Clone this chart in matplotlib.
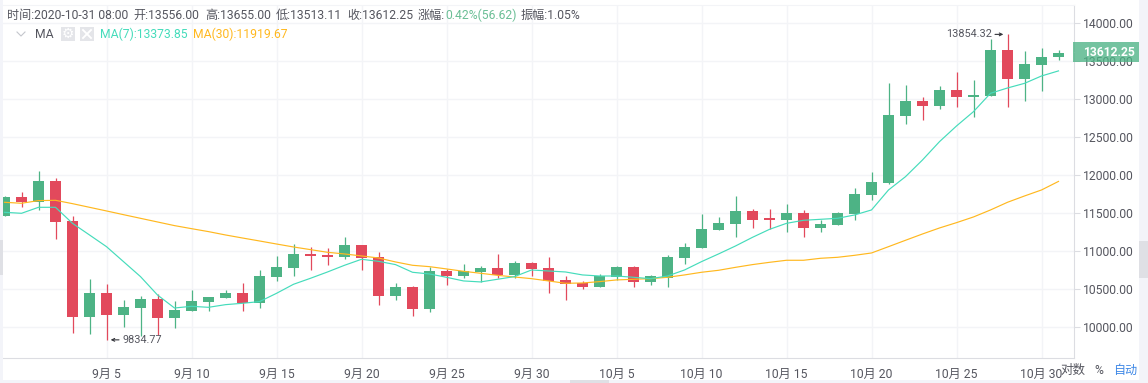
import pandas as pd
import matplotlib
matplotlib.use('Agg')
import matplotlib.pyplot as plt
from matplotlib.patches import Rectangle
from matplotlib.lines import Line2D

plt.rcParams['font.family'] = ['Roboto', 'Noto Sans CJK SC', 'DejaVu Sans']

W, H = 1148, 383

# daily candles from 2020-08-30 to 2020-10-31
open_p = [11470, 11715, 11653, 11925, 11400, 10140, 10452, 10162, 10259, 10373, 10127, 10219, 10333,
          10390, 10452, 10320, 10662, 10781, 10965, 10952, 10925, 11083, 10925, 10412, 10531, 10241,
          10741, 10675, 10724, 10781, 10689, 10846, 10781, 10623, 10583, 10531, 10662, 10794, 10597,
          10649, 10912, 11044, 11281, 11360, 11531, 11439, 11412, 11504, 11307, 11346, 11491, 11741,
          11899, 12781, 12978, 12912, 13123, 13031, 13044, 13649, 13268, 13452, 13556]
close_p = [11710, 11650, 11925, 11390, 10140, 10452, 10162, 10268, 10373, 10127, 10228, 10346, 10399,
           10452, 10320, 10675, 10794, 10965, 10939, 10925, 11083, 10912, 10412, 10531, 10241, 10741,
           10675, 10746, 10781, 10689, 10846, 10768, 10614, 10570, 10531, 10675, 10794, 10597, 10675,
           10925, 11057, 11294, 11373, 11531, 11412, 11412, 11504, 11307, 11360, 11504, 11754, 11912,
           12794, 12978, 12912, 13123, 13031, 13057, 13649, 13268, 13465, 13557, 13612.25]
high_p = [11730, 11785, 12055, 11970, 11465, 10636, 10575, 10355, 10412, 10439, 10346, 10496, 10399,
          10487, 10588, 10754, 10939, 11101, 11053, 11044, 11189, 11083, 10996, 10583, 10548, 10794,
          10763, 10833, 10807, 10965, 10873, 10864, 10925, 10675, 10610, 10700, 10807, 10807, 10689,
          10952, 11110, 11496, 11452, 11728, 11561, 11553, 11627, 11544, 11412, 11518, 11838, 12044,
          13210, 13193, 13031, 13175, 13360, 13254, 13794, 13854.32, 13640, 13675, 13655]
low_p = [11470, 11580, 11545, 11167, 9930, 9908, 9834.77, 10009, 9890, 9895, 9991, 10219, 10210,
         10390, 10219, 10254, 10614, 10675, 10754, 10820, 10899, 10754, 10298, 10360, 10145, 10202,
         10557, 10653, 10592, 10645, 10645, 10675, 10456, 10360, 10500, 10531, 10623, 10531, 10557,
         10535, 10833, 11044, 11281, 11189, 11311, 11289, 11259, 11193, 11259, 11346, 11412, 11675,
         11886, 12680, 12728, 12873, 12899, 12772, 13044, 12904, 12978, 13105, 13513.11]
ma7 = [11513, 11500, 11579, 11579, 11368, 11215, 11061, 10864, 10667, 10425, 10254, 10276, 10263,
       10298, 10316, 10338, 10447, 10566, 10645, 10728, 10816, 10895, 10868, 10825, 10724, 10702,
       10658, 10610, 10597, 10632, 10667, 10754, 10741, 10728, 10689, 10675, 10675, 10658, 10640,
       10675, 10754, 10864, 10965, 11070, 11184, 11289, 11368, 11408, 11421, 11434, 11478, 11544,
       11807, 11982, 12202, 12443, 12649, 12838, 13079, 13149, 13210, 13307, 13373.85]
ma30 = [11645, 11632, 11667, 11671, 11627, 11579, 11531, 11482, 11434, 11386, 11338, 11298, 11259,
        11215, 11175, 11136, 11096, 11057, 11022, 10987, 10965, 10939, 10912, 10860, 10816, 10798,
        10768, 10737, 10711, 10684, 10662, 10640, 10610, 10579, 10583, 10601, 10623, 10632, 10640,
        10658, 10689, 10724, 10750, 10789, 10825, 10855, 10882, 10882, 10908, 10921, 10947, 10978,
        11061, 11145, 11228, 11307, 11377, 11452, 11544, 11645, 11728, 11807, 11919.67]

price_ticks = [10000, 10500, 11000, 11500, 12000, 12500, 13000, 13500, 14000]
tick_dates = ['2020-09-05', '2020-09-10', '2020-09-15', '2020-09-20', '2020-09-25', '2020-09-30',
              '2020-10-05', '2020-10-10', '2020-10-15', '2020-10-20', '2020-10-25', '2020-10-30']
tick_labels = ['9月 5', '9月 10', '9月 15', '9月 20', '9月 25', '9月 30',
               '10月 5', '10月 10', '10月 15', '10月 20', '10月 25', '10月 30']

GREEN = '#4db385'
RED = '#e2495c'
TEAL = '#45dcbb'
ORANGE = '#ffb81f'
TEXT = '#55565f'
GRID = '#f3f4f7'
AXIS = '#dcdde2'
BAND = '#f3f4f9'


def px_text(fig, x, y, s, color=TEXT, size=8.7, **kw):
    """Put text at picture pixel coordinates"""
    kw.setdefault('va', 'center')
    return fig.text(x / W, 1 - y / H, s, color=color, fontsize=size, **kw)


def px_rect(fig, x, y, w, h, color, **kw):
    fig.add_artist(Rectangle((x / W, 1 - (y + h) / H), w / W, h / H, transform=fig.transFigure,
                             facecolor=color, edgecolor='none', **kw))


def px_line(fig, xs, ys, color, lw=1.0):
    fig.add_artist(Line2D([x / W for x in xs], [1 - y / H for y in ys], transform=fig.transFigure,
                          color=color, lw=lw))


def draw_candles(ax, x):
    colors = [GREEN if c >= o else RED for o, c in zip(open_p, close_p)]
    ax.vlines(x, low_p, high_p, colors=colors, lw=0.9, zorder=2)
    bottoms = [min(o, c) for o, c in zip(open_p, close_p)]
    heights = [max(abs(c - o), 20) for o, c in zip(open_p, close_p)]
    ax.bar(x, heights, bottom=bottoms, width=0.65, color=colors, zorder=3)


def draw_extreme(ax, pos, value, text, side):
    """Small arrow and price next to the highest / lowest wick, offsets in points"""
    ax.annotate('', xy=(pos, value), xycoords='data', xytext=(side * 9, 0),
                textcoords='offset points',
                arrowprops=dict(arrowstyle='->', color='#33343a', lw=0.8, mutation_scale=5,
                                shrinkA=0, shrinkB=side * 0 + 3))
    ax.annotate(text, (pos, value), xytext=(side * 11.4, 0), textcoords='offset points',
                va='center', ha='left' if side > 0 else 'right', fontsize=7.8, color=TEXT)


def draw_header(fig):
    px_text(fig, 7, 15.7, '时间:2020-10-31 08:00')
    px_text(fig, 133, 15.7, '开:13556.00')
    px_text(fig, 205, 15.7, '高:13655.00')
    px_text(fig, 275.5, 15.7, '低:13513.11')
    px_text(fig, 347, 15.7, '收:13612.25')
    px_text(fig, 418, 15.7, '涨幅:')
    px_text(fig, 445, 15.7, '0.42%(56.62)', color='#6bbf96')
    px_text(fig, 521, 15.7, '振幅:1.05%')

    px_line(fig, [17, 21, 25], [32, 36, 32], '#c4c6cc', 0.8)
    px_text(fig, 35, 34, 'MA')
    px_rect(fig, 61, 27, 14, 14, '#e4e5e9')
    px_text(fig, 68, 34, '⚙', color='white', size=10, ha='center', family='DejaVu Sans')
    px_rect(fig, 80, 27, 14, 14, '#e4e5e9')
    px_line(fig, [83, 91], [30, 38], 'white', 1.4)
    px_line(fig, [83, 91], [38, 30], 'white', 1.4)
    px_text(fig, 100, 34, 'MA(7):13373.85', color=TEAL)
    px_text(fig, 193, 34, 'MA(30):11919.67', color=ORANGE)


def main():
    dates = pd.date_range('2020-08-30', periods=len(close_p))
    x = list(range(len(dates)))
    day_pos = {d.strftime('%Y-%m-%d'): i for i, d in enumerate(dates)}

    fig = plt.figure(figsize=(W / 100, H / 100), dpi=100, facecolor='white')

    # grey page bands around the chart
    px_rect(fig, 0, 0, 3, H, BAND)
    px_rect(fig, 1139, 0, 9, H, BAND)
    px_rect(fig, 0, 380, W, 3, BAND)
    px_rect(fig, 0, 240, 3, 35, '#dfe0e5')
    px_rect(fig, 1139, 241, 9, 37, '#dfe0e5')
    px_rect(fig, 570, 380, 39, 3, '#dfe0e5')

    left, right, top, bottom = 3, 1073.6, 5.3, 358
    ax = fig.add_axes([left / W, 1 - bottom / H, (right - left) / W, (bottom - top) / H])
    ax.set_xlim((left - 4.5) / 17, (right - 4.5) / 17)
    ax.set_ylim(9596, 14237)

    ax.grid(True, color=GRID, lw=1.0, zorder=0)
    ax.set_axisbelow(True)
    draw_candles(ax, x)
    ax.plot(x, ma30, color=ORANGE, lw=0.85, zorder=4)
    ax.plot(x, ma7, color=TEAL, lw=0.85, zorder=4)

    ax.set_xticks([day_pos[d] for d in tick_dates])
    ax.set_xticklabels(tick_labels, fontsize=8.7, color=TEXT)
    ax.set_yticks(price_ticks)
    ax.set_yticklabels([f'{v:.2f}' for v in price_ticks], fontsize=8.7, color=TEXT)
    ax.yaxis.tick_right()
    ax.tick_params(axis='x', length=0, pad=7)
    ax.tick_params(axis='y', length=4, width=0.8, color=AXIS, pad=3)

    ax.spines['left'].set_visible(False)
    ax.spines['top'].set_color(GRID)
    ax.spines['right'].set_color(AXIS)
    ax.spines['bottom'].set_color(AXIS)

    # highest and lowest price notes
    draw_extreme(ax, day_pos['2020-09-05'], min(low_p), '9834.77', 1)
    draw_extreme(ax, day_pos['2020-10-28'], max(high_p), '13854.32', -1)

    # last price tag
    px_rect(fig, 1072.6, 42.3, 66, 19.7, GREEN, alpha=0.78, zorder=6)
    px_line(fig, [1073.6, 1079], [52, 52], 'white', 0.8)
    px_text(fig, 1083, 52.3, f'{close_p[-1]:.2f}', color='white', weight='bold', zorder=7)

    draw_header(fig)

    px_text(fig, 1060, 370, '对数', size=9)
    px_text(fig, 1094.5, 370, '%')
    px_text(fig, 1113.5, 370, '自动', color='#3d87e6')

    fig.savefig('out.png', dpi=100, facecolor='white')


if __name__ == "__main__":
    main()
